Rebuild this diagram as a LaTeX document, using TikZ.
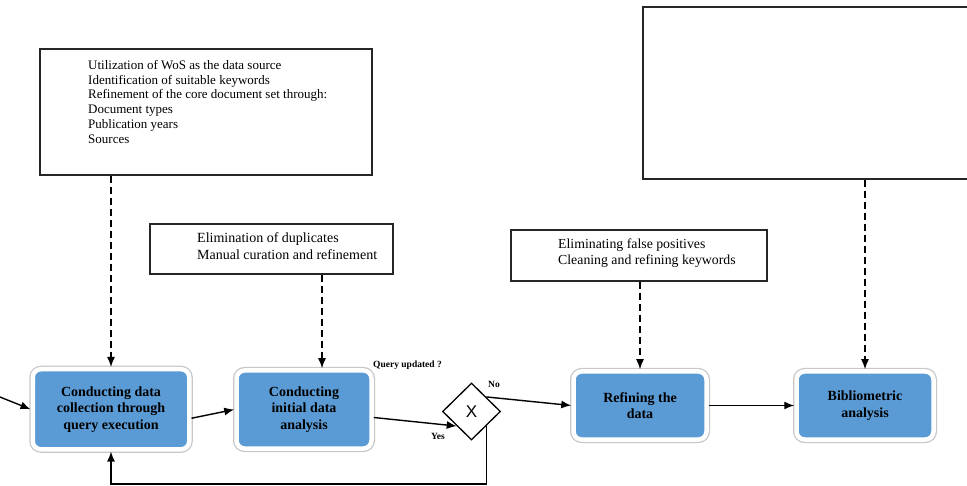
\documentclass[tikz,border=0pt]{standalone}
\usepackage{fontspec}
\setmainfont{Liberation Serif}
\setsansfont{Liberation Sans}
\usetikzlibrary{shapes.geometric,arrows.meta}
\definecolor{stageblue}{RGB}{91,155,213}

\begin{document}
\begin{tikzpicture}[x=1pt, y=-1pt,
  stage/.style={rectangle, rounded corners=8pt, fill=stageblue, draw=white, line width=4.5pt,
    preaction={draw=black!22, line width=7pt}, align=center, inner sep=0pt,
    font=\fontsize{14}{16.5}\selectfont\bfseries},
  note/.style={rectangle, draw=black!85, line width=1.3pt, inner sep=0pt},
  notetext/.style={align=left, inner sep=0pt, anchor=north west, font=\fontsize{13}{14.8}\selectfont},
  tag/.style={inner sep=0pt, font=\fontsize{9.5}{9.5}\selectfont\bfseries},
  flow/.style={-{Latex[length=10pt,width=8pt]}, line width=1.4pt},
  dashflow/.style={flow, dash pattern=on 7pt off 4pt}]
  \useasboundingbox (0,0) rectangle (967,486);
  % note boxes
  \node[note, minimum width=332pt, minimum height=126pt] (sources) at (206,112) {};
  \node[notetext] (sourcestext) at (88,60) {Utilization of WoS as the data source\\
    Identification of suitable keywords\\
    Refinement of the core document set through:\\
    Document types\\
    Publication years\\
    Sources};
  \node[note, minimum width=243pt, minimum height=50pt] (dedup) at (271.5,249) {};
  \node[notetext, font=\fontsize{14}{17}\selectfont] (deduptext) at (197,232) {Elimination of duplicates\\
    Manual curation and refinement};
  \node[note, minimum width=256pt, minimum height=51pt] (clean) at (639,255.5) {};
  \node[notetext, font=\fontsize{13.8}{16}\selectfont] (cleantext) at (558,239) {Eliminating false positives\\
    Cleaning and refining keywords};
  \node[note, minimum width=340pt, minimum height=172pt] (metrics) at (813,93) {};
  % stages
  \node[stage, minimum width=156.5pt, minimum height=80pt] (collect) at (111,409.25) {Conducting data\\collection through\\query execution};
  \node[stage, minimum width=135pt, minimum height=78pt] (analyse) at (304,409.5) {Conducting\\initial data\\analysis};
  \node[diamond, draw, line width=1.3pt, fill=white, minimum width=58pt, minimum height=57pt, inner sep=0pt,
    font=\fontsize{17}{17}\selectfont\sffamily] (gate) at (471.5,411.5) {X};
  \node[stage, minimum width=133pt, minimum height=68pt] (refine) at (640,405.5) {Refining the\\data};
  \node[stage, minimum width=137pt, minimum height=68pt] (biblio) at (865,405.5) {Bibliometric\\analysis};
  % labels
  \node[tag, anchor=west] (query) at (373,365) {Query updated ?};
  \node[tag, anchor=west] (no) at (488,384) {No};
  \node[tag] (yes) at (438,436) {Yes};
  % connectors
  \coordinate (entry) at (0,397);
  \draw[flow] (entry) -- (collect.west);
  \draw[flow] ([yshift=-9pt]collect.east) -- (analyse.west);
  \draw[flow] ([yshift=-8pt]analyse.east) -- (gate.south west);
  \draw[flow] (gate.north east) -- (refine.west);
  \draw[flow] (refine.east) -- (biblio.west);
  \draw[flow] (gate.south east) -- ++(0,58) -| (collect.south);
  \draw[dashflow] (sources.south -| collect.north) -- (collect.north);
  \draw[dashflow] ([xshift=18pt]analyse.north |- dedup.south) -- ([xshift=18pt]analyse.north);
  \draw[dashflow] (clean.south -| refine.north) -- (refine.north);
  \draw[dashflow] (metrics.south -| biblio.north) -- (biblio.north);
\end{tikzpicture}
\end{document}
